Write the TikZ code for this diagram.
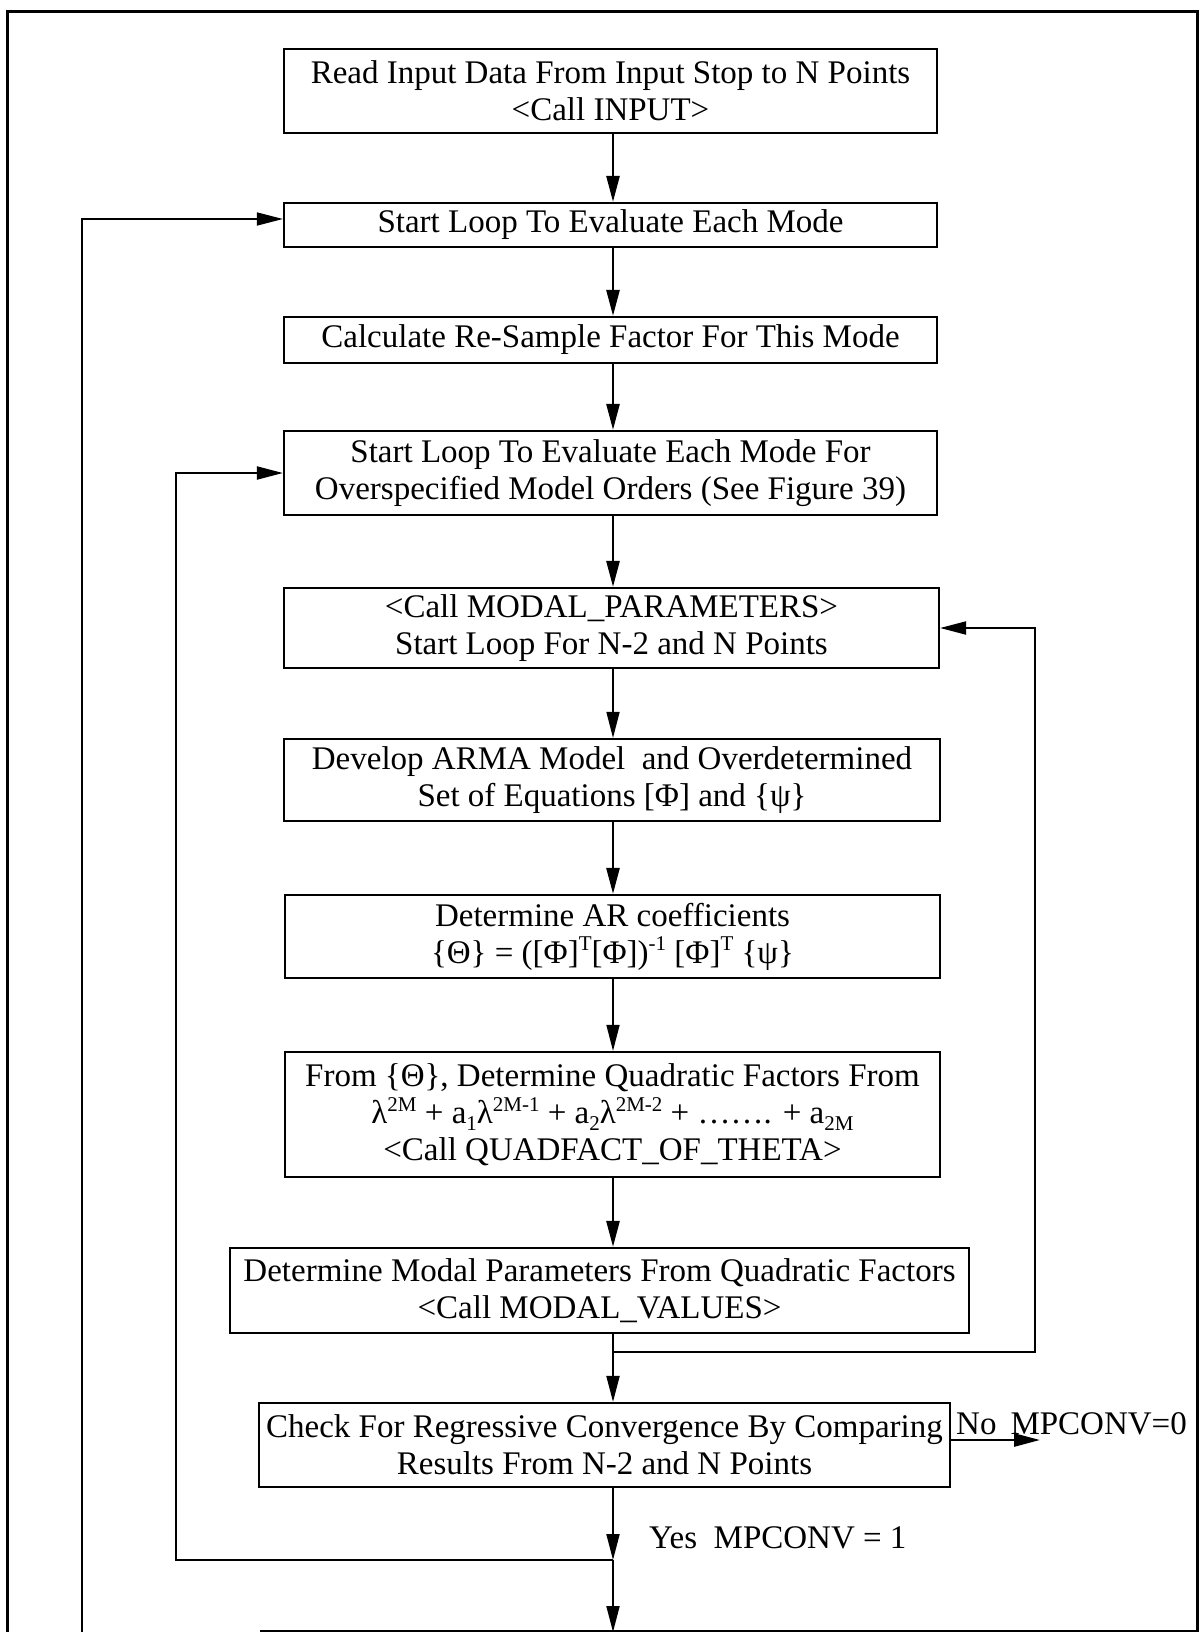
\documentclass[tikz,border=0pt]{standalone}
\usepackage{fontspec}
\setmainfont{Liberation Serif}
\usetikzlibrary{arrows.meta}
\newcommand\upsc[1]{\raisebox{0.8ex}{\fontsize{21}{21}\selectfont #1}}
\newcommand\dnsc[1]{\raisebox{-0.45ex}{\fontsize{21}{21}\selectfont #1}}

\begin{document}
\begin{tikzpicture}[x=1pt,y=-1pt,
  flowbox/.style={draw, line width=2.2pt, align=center, inner sep=2pt,
    font=\fontsize{33}{37}\selectfont},
  arr/.style={line width=2pt, -{Triangle[length=26pt,width=13pt]}},
  wire/.style={line width=2pt},
  lbl/.style={font=\fontsize{33}{37}\selectfont, inner sep=0pt}]

\useasboundingbox (0,0) rectangle (1200,1632);

% page frame
\draw[line width=3pt] (7,1632) -- (7,12) -- (1197,12) -- (1197,1632);
\draw[line width=2.5pt] (260,1631) -- (1197,1631);

% spine of the chart
\coordinate (sp) at (613,0);

\node[flowbox, minimum width=653pt, minimum height=84pt] (b1) at (610.5,91)
  {Read Input Data From Input Stop to N Points\\ <Call INPUT>};
\node[flowbox, minimum width=653pt, minimum height=44pt] (b2) at (610.5,225)
  {Start Loop To Evaluate Each Mode};
\node[flowbox, minimum width=653pt, minimum height=46pt] (b3) at (610.5,340)
  {Calculate Re-Sample Factor For This Mode};
\node[flowbox, minimum width=653pt, minimum height=84pt] (b4) at (610.5,473)
  {Start Loop To Evaluate Each Mode For\\ Overspecified Model Orders (See Figure 39)};
\node[flowbox, minimum width=655pt, minimum height=80pt] (b5) at (611.5,628)
  {<Call MODAL\_PARAMETERS>\\ Start Loop For N-2 and N Points};
\node[flowbox, minimum width=656pt, minimum height=82pt] (b6) at (612,780)
  {Develop ARMA Model~ and Overdetermined\\ Set of Equations [Φ] and \{ψ\}};
\node[flowbox, minimum width=655pt, minimum height=83pt] (b7) at (612.5,936.5)
  {Determine AR coefficients\\ \{Θ\} = ([Φ]\upsc{T}[Φ])\upsc{-1} [Φ]\upsc{T} \{ψ\}};
\node[flowbox, minimum width=655pt, minimum height=125pt] (b8) at (612.5,1114.5)
  {From \{Θ\}, Determine Quadratic Factors From\\
   λ\upsc{2M} + a\dnsc{1}λ\upsc{2M-1} + a\dnsc{2}λ\upsc{2M-2} + ……. + a\dnsc{2M}\\
   <Call QUADFACT\_OF\_THETA>};
\node[flowbox, minimum width=739pt, minimum height=85pt] (b9) at (599.5,1290.5)
  {Determine Modal Parameters From Quadratic Factors\\ <Call MODAL\_VALUES>};
\node[flowbox, minimum width=691pt, minimum height=84pt] (b10) at (604.5,1445)
  {Check For Regressive Convergence By Comparing\\ Results From N-2 and N Points};

% junctions and loop corners
\coordinate (j1) at (613,1352);
\coordinate (r1) at (1035,1352);
\coordinate (j2) at (613,1560);
\coordinate (l1) at (176,1560);
\coordinate (lb) at (82,1632);
\coordinate (bot) at (613,1632);
\coordinate (noend) at (1040,1440);

% main flow
\draw[arr, line width=2.6pt] (b1.south -| sp) -- (b2.north -| sp);
\draw[arr, line width=2.6pt] (b2.south -| sp) -- (b3.north -| sp);
\draw[arr, line width=2.6pt] (b3.south -| sp) -- (b4.north -| sp);
\draw[arr, line width=2.6pt] (b4.south -| sp) -- (b5.north -| sp);
\draw[arr, line width=1.6pt] (b5.south -| sp) -- (b6.north -| sp);
\draw[arr, line width=2.6pt] (b6.south -| sp) -- (b7.north -| sp);
\draw[arr, line width=1.6pt] (b7.south -| sp) -- (b8.north -| sp);
\draw[arr, line width=2.6pt] (b8.south -| sp) -- (b9.north -| sp);
\draw[wire] (b9.south -| sp) -- (j1);
\draw[arr] (j1) -- (b10.north -| sp);

% inner loop back to the modal parameter call
\draw[arr] (j1) -- (r1) |- (b5.east);

% convergence branches
\draw[arr, line width=2.6pt] (b10.east |- noend) -- (noend);
\node[lbl, anchor=base west] (nolbl) at (956,1434) {No\hspace{14pt}MPCONV=0};
\draw[arr] (b10.south -| sp) -- (j2);
\node[lbl, anchor=west] (yeslbl) at (649,1538) {Yes~ MPCONV = 1};
\draw[arr] (j2) -- (l1) |- (b4.west);
\draw[arr] (j2) -- (bot);

% outer loop over modes
\draw[arr, line width=1.6pt] (lb) |- ([yshift=6pt]b2.west);

\end{tikzpicture}
\end{document}
